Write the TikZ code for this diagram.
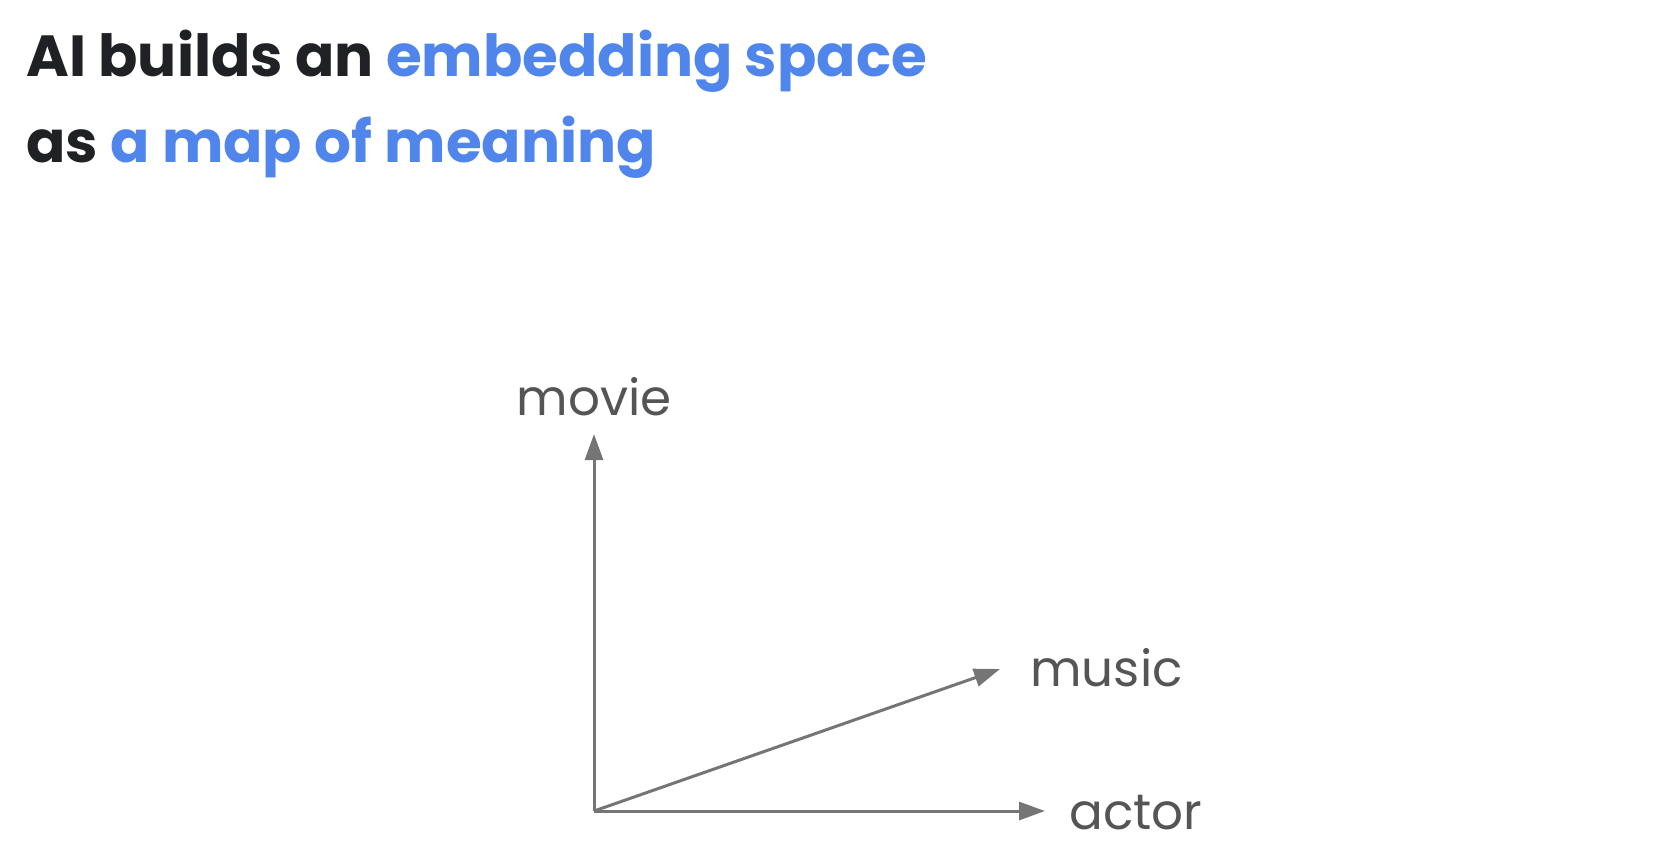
\documentclass[tikz,border=0pt]{standalone}
\usepackage{fontspec}
\setmainfont{Poppins}
\usetikzlibrary{arrows.meta,positioning}
\definecolor{inkdark}{HTML}{202124}
\definecolor{gblue}{HTML}{5086EC}
\definecolor{axisgray}{HTML}{757575}
\definecolor{labelgray}{HTML}{555555}

\begin{document}
\begin{tikzpicture}[
    x=0.5pt, y=-0.5pt,
    headline/.style={anchor=base west, inner sep=0pt, text=inkdark,
                     font=\fontsize{29}{34}\selectfont\bfseries},
    axislabel/.style={inner sep=0pt, text=labelgray,
                      font=\fontsize{25}{30}\selectfont},
    axis/.style={-{Triangle[length=13pt, width=9pt]}, axisgray, line width=1.5pt}
]
\useasboundingbox (0,0) rectangle (1658,864);
\node[headline] (line1) at (26,76) {AI builds an \textcolor{gblue}{embedding space}};
\node[headline] (line2) at (26,162) {as \textcolor{gblue}{a map of meaning}};
% axes
\coordinate (origin) at (594,811);
\coordinate (movietip) at (594,434);
\coordinate (musictip) at (1000,669);
\coordinate (actortip) at (1045,811);
\draw[axis] (origin) -- (movietip);
\draw[axis] (origin) -- (musictip);
\draw[axis] (origin) -- (actortip);
\node[axislabel, anchor=mid] (movie) at (594,410) {movie};
\node[axislabel, anchor=mid west] (music) at (1030,681) {music};
\node[axislabel, anchor=mid west] (actor) at (1069,824) {actor};
\end{tikzpicture}
\end{document}
